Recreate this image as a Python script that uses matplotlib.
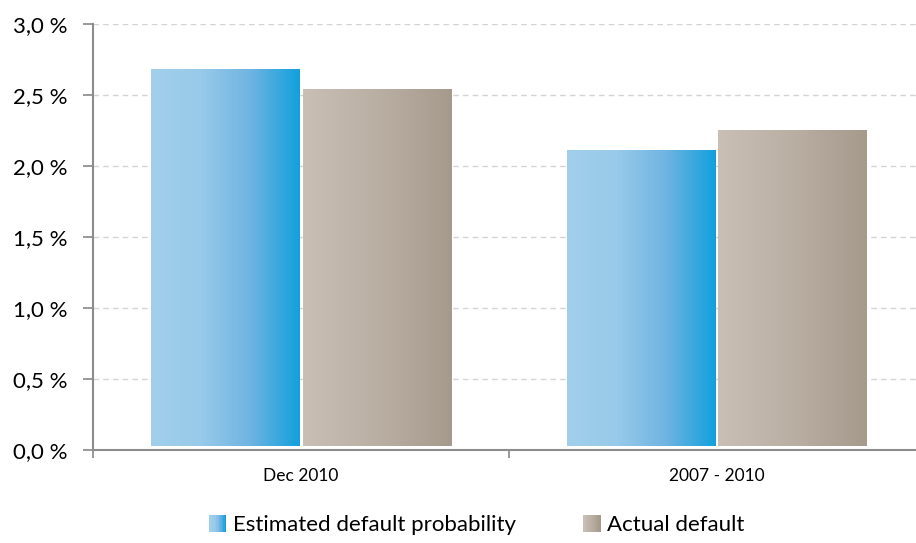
import numpy as np
import matplotlib
matplotlib.use("Agg")
import matplotlib.pyplot as plt
from matplotlib.colors import LinearSegmentedColormap
from matplotlib.patches import Rectangle
from matplotlib.legend_handler import HandlerBase
from matplotlib.ticker import FuncFormatter

plt.rcParams['font.family'] = ['Lato', 'DejaVu Sans']

# data
categories = ["Dec 2010", "2007 - 2010"]
estimated = [2.68, 2.11]
actual = [2.54, 2.25]
series_names = ["Estimated default probability", "Actual default"]

# gradients (left -> right)
blue_cmap = LinearSegmentedColormap.from_list("blue", ["#A2CFEC", "#98CAE9", "#6FB4E2", "#12A0DC"])
brown_cmap = LinearSegmentedColormap.from_list("brown", ["#C9BFB5", "#BAAFA3", "#A69A8D"])


class GradientHandler(HandlerBase):
    def __init__(self, cmap, **kw):
        super().__init__(**kw)
        self.cmap = cmap

    def create_artists(self, legend, orig_handle, xdescent, ydescent, width, height, fontsize, trans):
        size = height * 1.1
        x0 = -xdescent + width - size
        y0 = -ydescent - 0.05 * height
        n = 12
        arts = []
        for k in range(n):
            r = Rectangle((x0 + k * size / n, y0), size / n + 0.2, size,
                          facecolor=self.cmap(k / (n - 1)), edgecolor='none', transform=trans)
            arts.append(r)
        return arts


fig = plt.figure(figsize=(9.16, 5.43), dpi=100)
ax = fig.add_axes([0.1015, 0.1713, 0.908, 0.7845])

x = np.arange(len(categories))
w = 0.356
gap = 0.004
bars1 = ax.bar(x - w / 2 - gap, estimated, w, color='none', edgecolor='none')
bars2 = ax.bar(x + w / 2 + gap, actual, w, color='none', edgecolor='none')

grad = np.linspace(0, 1, 256).reshape(1, -1)
for bars, cmap in [(bars1, blue_cmap), (bars2, brown_cmap)]:
    for b in bars:
        x0, y0 = b.get_x(), 0.03
        ax.imshow(grad, cmap=cmap, aspect='auto', interpolation='bilinear',
                  extent=(x0, x0 + b.get_width(), y0, b.get_height()), zorder=2)

ax.set_xlim(-0.5, 1.5)
ax.set_ylim(0, 3.0)
ax.set_yticks(np.arange(0, 3.01, 0.5))
ax.yaxis.set_major_formatter(FuncFormatter(lambda v, p: f"{v:.1f} %".replace('.', ',')))
ax.yaxis.grid(True, color='#D4D4D4', linestyle=(0, (4, 3)), linewidth=1)
ax.set_axisbelow(True)

ax.set_xticks(x)
ax.set_xticklabels(categories, fontsize=12.5)
ax.set_xticks([-0.5, 0.5, 1.5], minor=True)
ax.tick_params(axis='x', which='major', length=0, pad=13)
ax.tick_params(axis='x', which='minor', length=6, color='#888888', width=1.2)
ax.tick_params(axis='y', length=7, color='#888888', width=1.2, labelsize=16, pad=11)

for s in ['top', 'right']:
    ax.spines[s].set_visible(False)
for s in ['left', 'bottom']:
    ax.spines[s].set_color('#8C8C8C')
    ax.spines[s].set_linewidth(1.5)

h1 = Rectangle((0, 0), 1, 1)
h2 = Rectangle((0, 0), 1, 1)
fig.legend([h1, h2], series_names, loc='lower center', bbox_to_anchor=(0.52, -0.022),
           ncol=2, frameon=False, fontsize=16, handlelength=0.8, handletextpad=0.3,
           columnspacing=3.0,
           handler_map={h1: GradientHandler(blue_cmap), h2: GradientHandler(brown_cmap)})

fig.savefig("out.png", dpi=100)
